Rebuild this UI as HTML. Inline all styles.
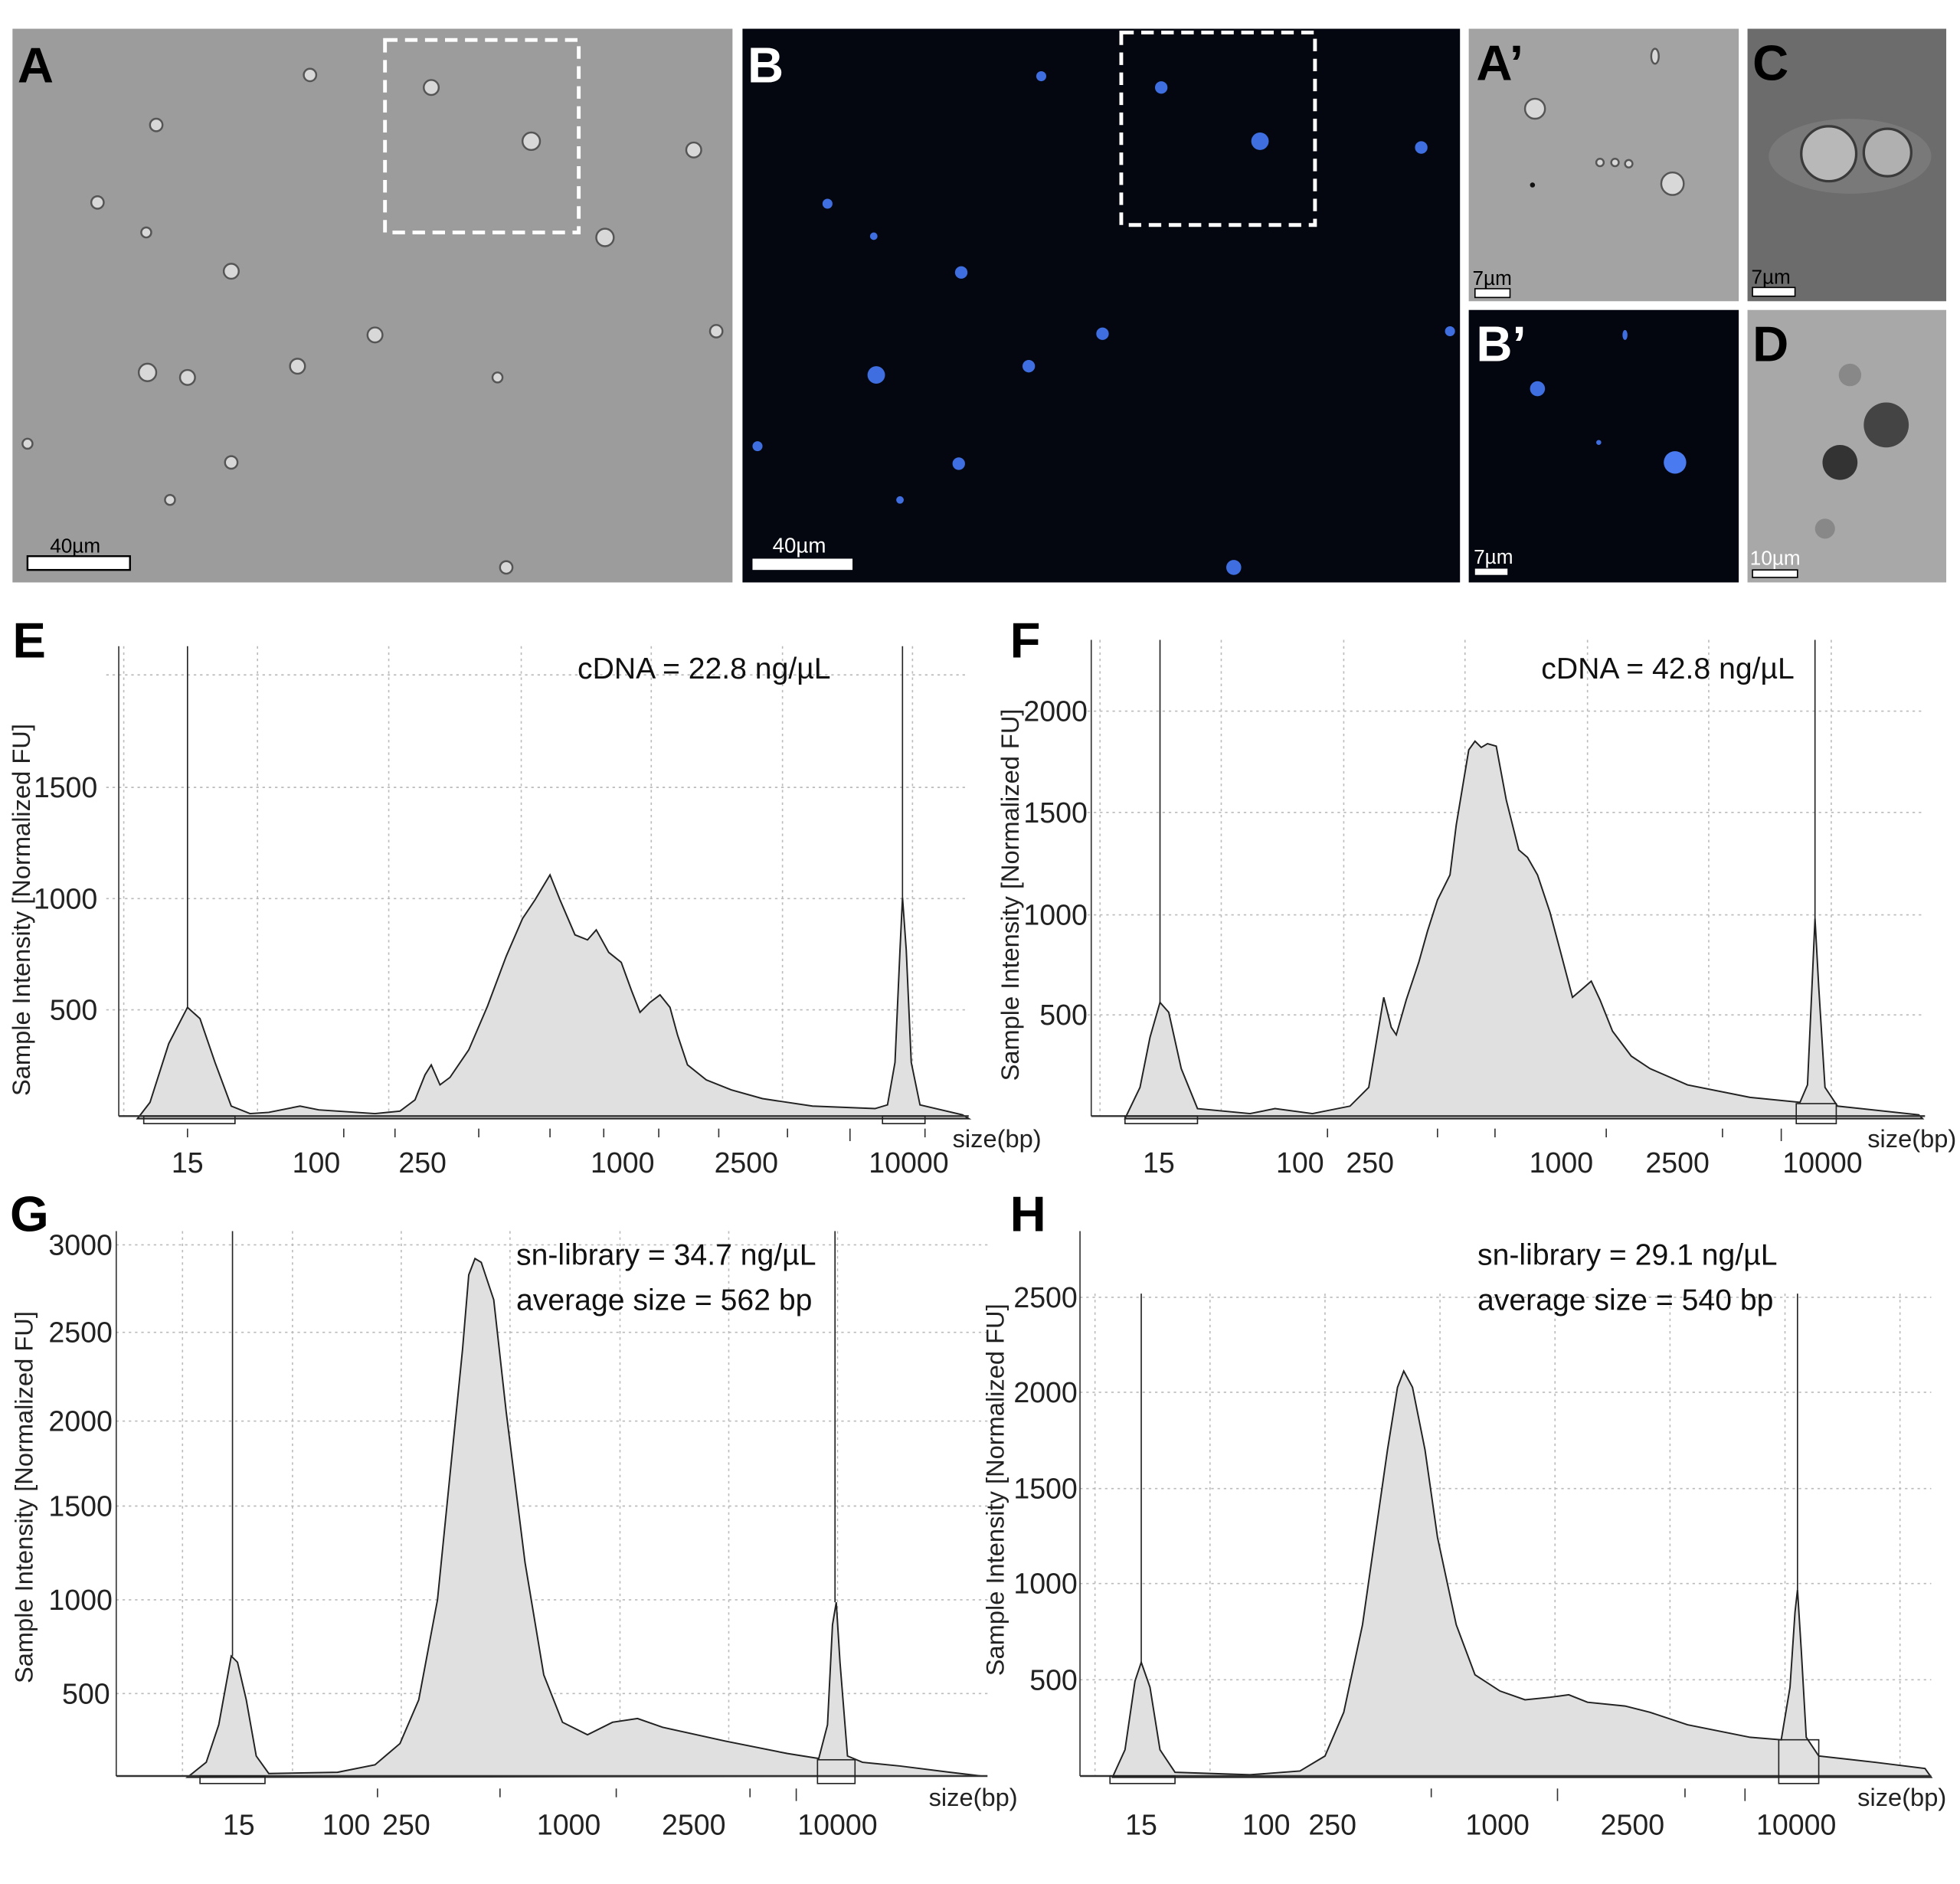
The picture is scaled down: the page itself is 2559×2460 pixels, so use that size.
<!DOCTYPE html>
<html><head><meta charset="utf-8"><style>
html,body{margin:0;padding:0;background:#fff}
svg{display:block}
text{font-family:"Liberation Sans",sans-serif}
.lab{font-weight:bold;font-size:40px}
.tk{font-size:23px;fill:#222}
.ti{font-size:20px;fill:#222}
.an{font-size:24px;fill:#111}
.g{stroke:#bbb;stroke-width:1;stroke-dasharray:2 3}
.c{fill:#e0e0e0;stroke:#222;stroke-width:1.2}
</style></head><body>
<svg width="2559" height="2460" viewBox="0 0 1568 1507.4" preserveAspectRatio="none" xmlns="http://www.w3.org/2000/svg">
<rect width="1568" height="1508" fill="#fff"/>
<!-- Panel A -->
<rect x="10" y="23" width="576" height="443" fill="#9c9c9c"/>
<g fill="#d8d8d8" stroke="#555" stroke-width="1.5">
<circle cx="345" cy="70" r="6"/><circle cx="425" cy="113" r="7"/><circle cx="484" cy="190" r="7"/><circle cx="248" cy="60" r="5"/><circle cx="125" cy="100" r="5"/><circle cx="185" cy="217" r="6"/><circle cx="300" cy="268" r="6"/><circle cx="118" cy="298" r="7"/><circle cx="150" cy="302" r="6"/><circle cx="238" cy="293" r="6"/><circle cx="185" cy="370" r="5"/><circle cx="405" cy="454" r="5"/><circle cx="555" cy="120" r="6"/><circle cx="78" cy="162" r="5"/><circle cx="117" cy="186" r="4"/><circle cx="573" cy="265" r="5"/><circle cx="22" cy="355" r="4"/><circle cx="398" cy="302" r="4"/><circle cx="136" cy="400" r="4"/>
</g>
<rect x="308" y="32" width="155" height="154" fill="none" stroke="#fff" stroke-width="3" stroke-dasharray="10 6"/>
<rect x="22" y="445" width="82" height="11" fill="#fff" stroke="#000" stroke-width="1.5"/>
<text x="40" y="442" font-size="16" fill="#000">40µm</text>
<text x="14" y="66" class="lab" fill="#000">A</text>
<!-- Panel B -->
<rect x="594" y="23" width="574" height="443" fill="#04070f"/>
<g fill="#3f6ee0">
<circle cx="833" cy="61" r="4"/><circle cx="929" cy="70" r="5"/><circle cx="1008" cy="113" r="7"/><circle cx="1137" cy="118" r="5"/><circle cx="662" cy="163" r="4"/><circle cx="699" cy="189" r="3"/><circle cx="769" cy="218" r="5"/><circle cx="882" cy="267" r="5"/><circle cx="823" cy="293" r="5"/><circle cx="701" cy="300" r="7"/><circle cx="1160" cy="265" r="4"/><circle cx="606" cy="357" r="4"/><circle cx="767" cy="371" r="5"/><circle cx="987" cy="454" r="6"/><circle cx="720" cy="400" r="3"/>
</g>
<rect x="897" y="26" width="155" height="154" fill="none" stroke="#fff" stroke-width="3" stroke-dasharray="10 6"/>
<rect x="602" y="447" width="80" height="9" fill="#fff"/>
<text x="618" y="442" font-size="17" fill="#fff">40µm</text>
<text x="598" y="66" class="lab" fill="#fff">B</text>
<!-- A' -->
<rect x="1175" y="23" width="216" height="218" fill="#a3a3a3"/>
<g fill="#d8d8d8" stroke="#555" stroke-width="1.5"><circle cx="1228" cy="87" r="8"/><circle cx="1338" cy="147" r="9"/><circle cx="1280" cy="130" r="3"/><circle cx="1292" cy="130" r="3"/><circle cx="1303" cy="131" r="3"/><ellipse cx="1324" cy="45" rx="3" ry="6"/></g>
<circle cx="1226" cy="148" r="2" fill="#111"/>
<rect x="1180" y="231" width="28" height="7" fill="#fff" stroke="#000"/>
<text x="1178" y="228" font-size="16">7µm</text>
<text x="1181" y="64" class="lab">A’</text>
<!-- C -->
<rect x="1398" y="23" width="159" height="218" fill="#6c6c6c"/>
<ellipse cx="1480" cy="125" rx="65" ry="30" fill="#797979"/>
<circle cx="1463" cy="123" r="22" fill="#b8b8b8" stroke="#3a3a3a" stroke-width="2"/>
<circle cx="1510" cy="122" r="19" fill="#b0b0b0" stroke="#3a3a3a" stroke-width="2"/>
<rect x="1402" y="230" width="34" height="7" fill="#fff" stroke="#000"/>
<text x="1401" y="227" font-size="16">7µm</text>
<text x="1402" y="64" class="lab">C</text>
<!-- B' -->
<rect x="1175" y="248" width="216" height="218" fill="#04060f"/>
<circle cx="1230" cy="311" r="6" fill="#3f6ee0"/><circle cx="1340" cy="370" r="9" fill="#4a7af0"/><circle cx="1279" cy="354" r="2" fill="#3f6ee0"/><ellipse cx="1300" cy="268" rx="2" ry="4" fill="#3f6ee0"/>
<rect x="1180" y="455" width="26" height="5" fill="#fff"/>
<text x="1179" y="451" font-size="16" fill="#fff">7µm</text>
<text x="1181" y="289" class="lab" fill="#fff">B’</text>
<!-- D -->
<rect x="1398" y="248" width="159" height="218" fill="#a8a8a8"/>
<circle cx="1472" cy="370" r="14" fill="#333"/>
<circle cx="1509" cy="340" r="18" fill="#444"/>
<circle cx="1480" cy="300" r="9" fill="#888"/><circle cx="1460" cy="423" r="8" fill="#888"/>
<rect x="1402" y="456" width="36" height="6" fill="#fff" stroke="#000"/>
<text x="1400" y="452" font-size="16" fill="#fff">10µm</text>
<text x="1402" y="289" class="lab">D</text>

<!-- Chart E -->
<g>
<g class="g"><line x1="99" y1="517" x2="99" y2="893"/><line x1="206" y1="517" x2="206" y2="893"/><line x1="311" y1="517" x2="311" y2="893"/><line x1="417" y1="517" x2="417" y2="893"/><line x1="521" y1="517" x2="521" y2="893"/><line x1="626" y1="517" x2="626" y2="893"/><line x1="730" y1="517" x2="730" y2="893"/>
<line x1="85" y1="540" x2="775" y2="540"/><line x1="85" y1="630" x2="775" y2="630"/><line x1="85" y1="719" x2="775" y2="719"/><line x1="85" y1="808" x2="775" y2="808"/></g>
<polygon class="c" points="110,895 120,882 135,835 150,806 160,815 172,850 185,885 200,891 215,890 240,885 255,888 300,891 320,889 332,880 340,860 345,852 352,868 360,862 375,840 390,805 405,765 418,735 428,720 440,700 448,720 460,748 470,752 477,744 487,762 497,770 505,792 512,810 520,802 528,796 536,806 542,828 550,852 565,864 585,872 610,879 650,885 700,887 710,884 716,850 720,760 722,718 725,760 729,850 736,884 770,892 775,895"/>
<line x1="150" y1="517" x2="150" y2="806" stroke="#222"/><line x1="722" y1="517" x2="722" y2="718" stroke="#222"/>
<line x1="95" y1="517" x2="95" y2="893" stroke="#333"/><line x1="95" y1="893" x2="775" y2="893" stroke="#333" stroke-width="1.5"/>
<rect x="115" y="893" width="73" height="6" fill="none" stroke="#222"/><rect x="706" y="893" width="34" height="6" fill="none" stroke="#222"/>
<g stroke="#333"><line x1="150" y1="903" x2="150" y2="910"/><line x1="275" y1="903" x2="275" y2="910"/><line x1="316" y1="903" x2="316" y2="910"/><line x1="383" y1="903" x2="383" y2="910"/><line x1="440" y1="903" x2="440" y2="910"/><line x1="483" y1="903" x2="483" y2="910"/><line x1="527" y1="903" x2="527" y2="910"/><line x1="575" y1="903" x2="575" y2="910"/><line x1="630" y1="903" x2="630" y2="910"/><line x1="680" y1="903" x2="680" y2="913"/><line x1="740" y1="903" x2="740" y2="910"/></g>
<text class="tk" x="150" y="938" text-anchor="middle">15</text><text class="tk" x="253" y="938" text-anchor="middle">100</text><text class="tk" x="338" y="938" text-anchor="middle">250</text><text class="tk" x="498" y="938" text-anchor="middle">1000</text><text class="tk" x="597" y="938" text-anchor="middle">2500</text><text class="tk" x="727" y="938" text-anchor="middle">10000</text>
<text class="ti" x="762" y="918">size(bp)</text>
<text class="tk" x="78" y="816" text-anchor="end">500</text><text class="tk" x="78" y="727" text-anchor="end">1000</text><text class="tk" x="78" y="638" text-anchor="end">1500</text>
<text class="ti" transform="translate(24,728) rotate(-90)" text-anchor="middle">Sample Intensity [Normalized FU]</text>
<text class="an" x="462" y="543">cDNA = 22.8 ng/µL</text>
<text x="10" y="526" class="lab">E</text>
</g>

<!-- Chart F -->
<g>
<g class="g"><line x1="880" y1="512" x2="880" y2="893"/><line x1="977" y1="512" x2="977" y2="893"/><line x1="1075" y1="512" x2="1075" y2="893"/><line x1="1172" y1="512" x2="1172" y2="893"/><line x1="1270" y1="512" x2="1270" y2="893"/><line x1="1367" y1="512" x2="1367" y2="893"/><line x1="1465" y1="512" x2="1465" y2="893"/>
<line x1="870" y1="569" x2="1540" y2="569"/><line x1="870" y1="650" x2="1540" y2="650"/><line x1="870" y1="732" x2="1540" y2="732"/><line x1="870" y1="812" x2="1540" y2="812"/></g>
<polygon class="c" points="900,895 912,870 920,830 928,802 935,810 945,855 958,887 1000,891 1020,887 1050,891 1080,885 1095,870 1100,840 1107,798 1113,822 1117,828 1125,800 1135,770 1142,745 1150,720 1160,700 1165,660 1170,630 1175,600 1180,593 1185,598 1190,595 1197,597 1205,640 1215,680 1222,686 1230,700 1240,730 1248,760 1258,798 1265,792 1273,785 1280,800 1290,825 1305,845 1320,855 1350,868 1400,878 1440,882 1446,868 1450,780 1452,735 1455,790 1460,870 1470,885 1535,892 1538,895"/>
<line x1="928" y1="512" x2="928" y2="802" stroke="#222"/><line x1="1452" y1="512" x2="1452" y2="735" stroke="#222"/>
<line x1="873" y1="512" x2="873" y2="893" stroke="#333"/><line x1="873" y1="893" x2="1540" y2="893" stroke="#333" stroke-width="1.5"/>
<rect x="900" y="893" width="58" height="6" fill="none" stroke="#222"/><rect x="1437" y="883" width="32" height="16" fill="none" stroke="#222"/>
<g stroke="#333"><line x1="1062" y1="903" x2="1062" y2="910"/><line x1="1150" y1="903" x2="1150" y2="910"/><line x1="1196" y1="903" x2="1196" y2="910"/><line x1="1285" y1="903" x2="1285" y2="910"/><line x1="1378" y1="903" x2="1378" y2="910"/><line x1="1425" y1="903" x2="1425" y2="913"/></g>
<text class="tk" x="927" y="938" text-anchor="middle">15</text><text class="tk" x="1040" y="938" text-anchor="middle">100</text><text class="tk" x="1096" y="938" text-anchor="middle">250</text><text class="tk" x="1249" y="938" text-anchor="middle">1000</text><text class="tk" x="1342" y="938" text-anchor="middle">2500</text><text class="tk" x="1458" y="938" text-anchor="middle">10000</text>
<text class="ti" x="1494" y="918">size(bp)</text>
<text class="tk" x="870" y="820" text-anchor="end">500</text><text class="tk" x="870" y="740" text-anchor="end">1000</text><text class="tk" x="870" y="658" text-anchor="end">1500</text><text class="tk" x="870" y="577" text-anchor="end">2000</text>
<text class="ti" transform="translate(815,716) rotate(-90)" text-anchor="middle">Sample Intensity [Normalized FU]</text>
<text class="an" x="1233" y="543">cDNA = 42.8 ng/µL</text>
<text x="808" y="526" class="lab">F</text>
</g>

<!-- Chart G -->
<g>
<g class="g"><line x1="146" y1="985" x2="146" y2="1421"/><line x1="234" y1="985" x2="234" y2="1421"/><line x1="321" y1="985" x2="321" y2="1421"/><line x1="408" y1="985" x2="408" y2="1421"/><line x1="496" y1="985" x2="496" y2="1421"/><line x1="583" y1="985" x2="583" y2="1421"/><line x1="670" y1="985" x2="670" y2="1421"/>
<line x1="93" y1="996" x2="790" y2="996"/><line x1="93" y1="1066" x2="790" y2="1066"/><line x1="93" y1="1137" x2="790" y2="1137"/><line x1="93" y1="1205" x2="790" y2="1205"/><line x1="93" y1="1280" x2="790" y2="1280"/><line x1="93" y1="1355" x2="790" y2="1355"/></g>
<polygon class="c" points="150,1422 165,1410 175,1380 185,1325 190,1330 197,1360 205,1405 215,1419 270,1418 300,1412 320,1395 335,1360 350,1280 360,1180 370,1080 375,1020 380,1007 385,1010 395,1040 405,1130 420,1250 435,1340 450,1378 470,1388 490,1378 510,1375 530,1382 580,1393 630,1403 655,1407 662,1380 666,1300 669,1282 672,1330 678,1405 690,1410 720,1413 760,1418 785,1421"/>
<line x1="186" y1="985" x2="186" y2="1325" stroke="#222"/><line x1="668" y1="985" x2="668" y2="1282" stroke="#222"/>
<line x1="93" y1="985" x2="93" y2="1421" stroke="#333"/><line x1="93" y1="1421" x2="790" y2="1421" stroke="#333" stroke-width="1.5"/>
<rect x="160" y="1421" width="52" height="6" fill="none" stroke="#222"/><rect x="654" y="1408" width="30" height="19" fill="none" stroke="#222"/>
<g stroke="#333"><line x1="302" y1="1431" x2="302" y2="1438"/><line x1="400" y1="1431" x2="400" y2="1438"/><line x1="493" y1="1431" x2="493" y2="1438"/><line x1="600" y1="1431" x2="600" y2="1438"/><line x1="637" y1="1431" x2="637" y2="1441"/></g>
<text class="tk" x="191" y="1468" text-anchor="middle">15</text><text class="tk" x="277" y="1468" text-anchor="middle">100</text><text class="tk" x="325" y="1468" text-anchor="middle">250</text><text class="tk" x="455" y="1468" text-anchor="middle">1000</text><text class="tk" x="555" y="1468" text-anchor="middle">2500</text><text class="tk" x="670" y="1468" text-anchor="middle">10000</text>
<text class="ti" x="743" y="1445">size(bp)</text>
<text class="tk" x="88" y="1363" text-anchor="end">500</text><text class="tk" x="90" y="1288" text-anchor="end">1000</text><text class="tk" x="90" y="1213" text-anchor="end">1500</text><text class="tk" x="90" y="1145" text-anchor="end">2000</text><text class="tk" x="90" y="1074" text-anchor="end">2500</text><text class="tk" x="90" y="1004" text-anchor="end">3000</text>
<text class="ti" transform="translate(26,1198) rotate(-90)" text-anchor="middle">Sample Intensity [Normalized FU]</text>
<text class="an" x="413" y="1012">sn-library = 34.7 ng/µL</text>
<text class="an" x="413" y="1048">average size = 562 bp</text>
<text x="8" y="985" class="lab">G</text>
</g>

<!-- Chart H -->
<g>
<g class="g"><line x1="876" y1="1035" x2="876" y2="1421"/><line x1="968" y1="1035" x2="968" y2="1421"/><line x1="1060" y1="1035" x2="1060" y2="1421"/><line x1="1152" y1="1035" x2="1152" y2="1421"/><line x1="1244" y1="1035" x2="1244" y2="1421"/><line x1="1336" y1="1035" x2="1336" y2="1421"/><line x1="1428" y1="1035" x2="1428" y2="1421"/><line x1="1520" y1="1035" x2="1520" y2="1421"/>
<line x1="864" y1="1038" x2="1545" y2="1038"/><line x1="864" y1="1114" x2="1545" y2="1114"/><line x1="864" y1="1191" x2="1545" y2="1191"/><line x1="864" y1="1267" x2="1545" y2="1267"/><line x1="864" y1="1344" x2="1545" y2="1344"/></g>
<polygon class="c" points="890,1422 900,1400 908,1345 913,1330 920,1350 928,1400 940,1418 1000,1420 1040,1417 1060,1405 1075,1370 1090,1300 1100,1230 1110,1160 1118,1110 1123,1097 1130,1110 1140,1160 1150,1230 1165,1300 1180,1340 1200,1353 1220,1360 1240,1358 1255,1356 1270,1362 1300,1365 1320,1370 1350,1380 1400,1390 1425,1392 1432,1350 1436,1290 1438,1272 1441,1320 1445,1390 1455,1405 1500,1410 1540,1415 1545,1422"/>
<line x1="913" y1="1035" x2="913" y2="1330" stroke="#222"/><line x1="1438" y1="1035" x2="1438" y2="1272" stroke="#222"/>
<line x1="864" y1="985" x2="864" y2="1421" stroke="#333"/><line x1="864" y1="1421" x2="1545" y2="1421" stroke="#333" stroke-width="1.5"/>
<rect x="888" y="1421" width="52" height="6" fill="none" stroke="#222"/><rect x="1423" y="1392" width="32" height="35" fill="none" stroke="#222"/>
<g stroke="#333"><line x1="1145" y1="1431" x2="1145" y2="1438"/><line x1="1246" y1="1431" x2="1246" y2="1441"/><line x1="1348" y1="1431" x2="1348" y2="1438"/><line x1="1396" y1="1431" x2="1396" y2="1441"/></g>
<text class="tk" x="913" y="1468" text-anchor="middle">15</text><text class="tk" x="1013" y="1468" text-anchor="middle">100</text><text class="tk" x="1066" y="1468" text-anchor="middle">250</text><text class="tk" x="1198" y="1468" text-anchor="middle">1000</text><text class="tk" x="1306" y="1468" text-anchor="middle">2500</text><text class="tk" x="1437" y="1468" text-anchor="middle">10000</text>
<text class="ti" x="1486" y="1445">size(bp)</text>
<text class="tk" x="862" y="1352" text-anchor="end">500</text><text class="tk" x="862" y="1275" text-anchor="end">1000</text><text class="tk" x="862" y="1199" text-anchor="end">1500</text><text class="tk" x="862" y="1122" text-anchor="end">2000</text><text class="tk" x="862" y="1046" text-anchor="end">2500</text>
<text class="ti" transform="translate(803,1192) rotate(-90)" text-anchor="middle">Sample Intensity [Normalized FU]</text>
<text class="an" x="1182" y="1012">sn-library = 29.1 ng/µL</text>
<text class="an" x="1182" y="1048">average size = 540 bp</text>
<text x="808" y="985" class="lab">H</text>
</g>
</svg>
</body></html>
